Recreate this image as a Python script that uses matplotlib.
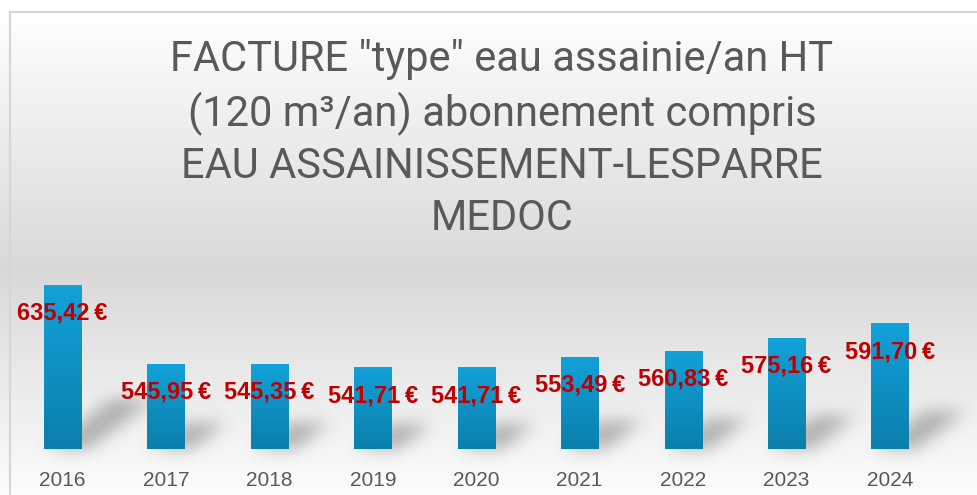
import numpy as np
import matplotlib.pyplot as plt
from matplotlib.path import Path
from matplotlib.patches import Rectangle
from matplotlib.colors import LinearSegmentedColormap

years = ["2016", "2017", "2018", "2019", "2020", "2021", "2022", "2023", "2024"]
values = [635.42, 545.95, 545.35, 541.71, 541.71, 553.49, 560.83, 575.16, 591.70]
value_labels = [f"{v:.2f}".replace(".", ",") + "\u202f€" for v in values]
title = ('FACTURE "type" eau assainie/an HT\n'
         "(120 m³/an) abonnement compris\n"
         "EAU ASSAINISSEMENT-LESPARRE\n"
         "MEDOC")

W, H = 978, 495
fig = plt.figure(figsize=(W / 100, H / 100), dpi=100)

# background: vertical grey gradient, white at top and bottom
bg = fig.add_axes([0, 0, 1, 1], zorder=0)
bg.set_xlim(0, W)
bg.set_ylim(0, H)
bg.axis("off")
rows = H - (np.arange(H) + 0.5)  # distance from the top for each row (origin lower)
level = np.interp(rows, [0, 12, 270, 495], [1.0, 1.0, 0.85, 0.99])
grad = np.repeat(level[:, None], 2, axis=1)
bg.imshow(np.dstack([grad, grad, grad]), extent=[0, W, 0, H], origin="lower",
          aspect="auto", zorder=0)
bg.add_patch(Rectangle((10, -5), W, H - 12 + 5, fill=False, ec="#d6d6d6", lw=1.6, zorder=3))

# main axes
y0, y1 = 450, 650
ax = fig.add_axes([10.8 / W, (H - 448.7) / H, (941.7 - 10.8) / W, (448.7 - 272.0) / H], zorder=2)
ax.patch.set_alpha(0)
half = 0.179
bar_cmap = LinearSegmentedColormap.from_list("bar", ["#0b7fab", "#12a1d9"])
for i, v in enumerate(values):
    ax.imshow(np.linspace(0, 1, 100)[:, None], extent=(i - half, i + half, y0, v),
              origin="lower", aspect="auto", cmap=bar_cmap, zorder=2)
ax.set_xlim(-0.5, 8.5)
ax.set_ylim(y0, y1)

# soft perspective shadows behind the bars
mask = np.zeros((H, W))
gx, gy = np.meshgrid(np.arange(W) + 0.5, np.arange(H) + 0.5)
pts = np.column_stack([gx.ravel(), gy.ravel()])
for i, v in enumerate(values):
    (xl, yb), (xr, yt) = ax.transData.transform([(i - half, y0), (i + half, v)])
    hs = 0.3 * (yt - yb)
    s = 1.3 * hs
    poly = Path([(xl + 4, yb), (xr + 8, yb), (xr + s + 8, yb + hs), (xl + s + 4, yb + hs)])
    mask = np.maximum(mask, poly.contains_points(pts).reshape(H, W).astype(float))
k = np.exp(-0.5 * (np.arange(-24, 25) / 8.0) ** 2)
k /= k.sum()
mask = np.apply_along_axis(lambda r: np.convolve(r, k, mode="same"), 1, mask)
mask = np.apply_along_axis(lambda c: np.convolve(c, k, mode="same"), 0, mask)
shadow = np.zeros((H, W, 4))
shadow[..., :3] = 0.33
shadow[..., 3] = mask * 0.42
bg.imshow(shadow, extent=[0, W, 0, H], origin="lower", aspect="auto", zorder=1)

for sp in ax.spines.values():
    sp.set_visible(False)
ax.set_yticks([])
ax.set_xticks(range(len(years)), years)
ax.tick_params(axis="x", length=0, pad=16, labelsize=15, labelcolor="#595959")
for t in ax.get_xticklabels():
    t.set_family(["Liberation Sans", "DejaVu Sans"])

for i, (v, lab) in enumerate(zip(values, value_labels)):
    ax.annotate(lab, (i, v), xytext=(0, -28), textcoords="offset pixels",
                ha="center", va="center", color="#C00000", fontsize=17,
                fontweight="bold", family=["Liberation Sans", "DejaVu Sans"], zorder=4)

fig.text(502 / W, 1 - 139 / H, title, ha="center", va="center", fontsize=30,
         color="#595959", linespacing=1.33,
         family=["Roboto", "DejaVu Sans"])

fig.savefig("out.png", dpi=100)
